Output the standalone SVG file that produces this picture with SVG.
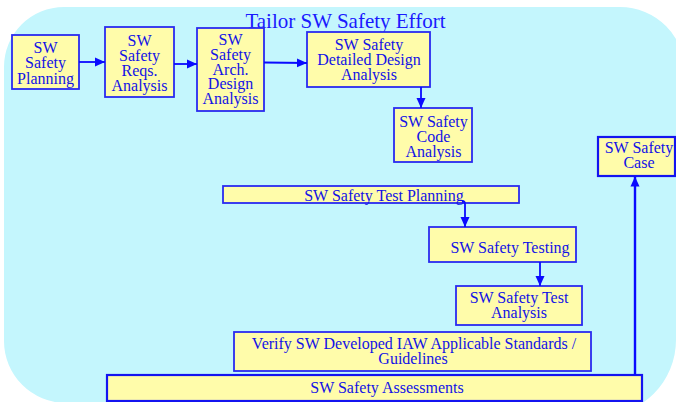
<svg xmlns="http://www.w3.org/2000/svg" width="676" height="402" viewBox="0 0 676 402">
  <style>
    .bg { fill: #c4f6fd; }
    .box { fill: #fffcaa; stroke: #2a2af0; stroke-width: 1.8; }
    .box-strong { fill: #fffcaa; stroke: #1414f0; stroke-width: 2.2; }
    .lbl { font-family: "Liberation Serif", "Times New Roman", serif; font-size: 16px; fill: #1212e6; text-anchor: middle; }
    .title { font-family: "Liberation Serif", "Times New Roman", serif; font-size: 21px; fill: #1a1aff; text-anchor: middle; }
    .link { stroke: #0a0aff; stroke-width: 1.8; fill: none; }
    .link-strong { stroke: #0a0aff; stroke-width: 2.4; fill: none; }
  </style>
  <defs>
    <marker id="arrow" markerUnits="userSpaceOnUse" markerWidth="10" markerHeight="10" viewBox="0 0 10 10" refX="10" refY="5" orient="auto">
      <path d="M0,0.5 L10,5 L0,9.5 Z" fill="#0a0aff"/>
    </marker>
  </defs>

  <!-- rounded backdrop -->
  <path class="bg" d="M64,7 H620 A65,65 0 0 1 685,72 L685,300 L676,340 A76,76 0 0 1 600,416 L66,416 L66,403 A62,62 0 0 1 4,341 L4,67 A60,60 0 0 1 64,7 Z"/>

  <text class="title" x="345.5" y="28">Tailor SW Safety Effort</text>

  <g id="node-planning">
    <rect class="box" x="12" y="35" width="67" height="54"/>
    <text class="lbl"><tspan x="45.5" y="52.5">SW</tspan><tspan x="45.5" y="68">Safety</tspan><tspan x="45.5" y="83.5">Planning</tspan></text>
  </g>

  <g id="node-reqs">
    <rect class="box" x="105" y="27" width="69" height="70"/>
    <text class="lbl"><tspan x="139.5" y="45.5">SW</tspan><tspan x="139.5" y="60.8">Safety</tspan><tspan x="139.5" y="76.1">Reqs.</tspan><tspan x="139.5" y="91.4">Analysis</tspan></text>
  </g>

  <g id="node-arch">
    <rect class="box" x="197" y="28" width="67" height="83"/>
    <text class="lbl"><tspan x="230.5" y="45">SW</tspan><tspan x="230.5" y="59.8">Safety</tspan><tspan x="230.5" y="74.6">Arch.</tspan><tspan x="230.5" y="89.4">Design</tspan><tspan x="230.5" y="104.2">Analysis</tspan></text>
  </g>

  <g id="node-detailed">
    <rect class="box" x="307" y="32" width="123" height="55"/>
    <text class="lbl"><tspan x="369" y="50">SW Safety</tspan><tspan x="369" y="65">Detailed Design</tspan><tspan x="369" y="80">Analysis</tspan></text>
  </g>

  <g id="node-code">
    <rect class="box" x="394" y="108" width="78" height="54"/>
    <text class="lbl"><tspan x="433.5" y="126.7">SW Safety</tspan><tspan x="433.5" y="141.7">Code</tspan><tspan x="433.5" y="156.7">Analysis</tspan></text>
  </g>

  <g id="node-case">
    <rect class="box-strong" x="598" y="137" width="77" height="39"/>
    <text class="lbl"><tspan x="639" y="153.3">SW Safety</tspan><tspan x="639" y="168.3">Case</tspan></text>
  </g>

  <g id="node-test-planning">
    <rect class="box" x="223" y="186" width="296" height="17"/>
    <text class="lbl" x="384" y="201">SW Safety Test Planning</text>
  </g>

  <g id="node-testing">
    <rect class="box" x="429" y="227" width="147" height="35"/>
    <text class="lbl" x="510" y="253.3">SW Safety Testing</text>
  </g>

  <g id="node-test-analysis">
    <rect class="box" x="456" y="286" width="126" height="39"/>
    <text class="lbl"><tspan x="519" y="302.7">SW Safety Test</tspan><tspan x="519" y="317.7">Analysis</tspan></text>
  </g>

  <g id="node-verify">
    <rect class="box" x="234" y="332" width="357" height="39"/>
    <text class="lbl"><tspan x="414" y="349.3">Verify SW Developed IAW Applicable Standards /</tspan><tspan x="413" y="364">Guidelines</tspan></text>
  </g>

  <g id="node-assessments">
    <rect class="box-strong" x="107" y="375" width="535" height="26"/>
    <text class="lbl" x="387" y="392.5">SW Safety Assessments</text>
  </g>

  <g id="connectors">
    <line class="link" x1="79" y1="62" x2="105" y2="62" marker-end="url(#arrow)"/>
    <line class="link" x1="174" y1="64" x2="197" y2="64" marker-end="url(#arrow)"/>
    <line class="link" x1="264" y1="62.5" x2="307" y2="63" marker-end="url(#arrow)"/>
    <line class="link" x1="421" y1="87" x2="421" y2="108" marker-end="url(#arrow)"/>
    <path class="link" d="M462,201 Q465,201 465,204 L465,227" marker-end="url(#arrow)"/>
    <line class="link" x1="540" y1="262" x2="540" y2="286" marker-end="url(#arrow)"/>
    <line class="link-strong" x1="635" y1="375" x2="635" y2="176.5" marker-end="url(#arrow)"/>
  </g>
</svg>
